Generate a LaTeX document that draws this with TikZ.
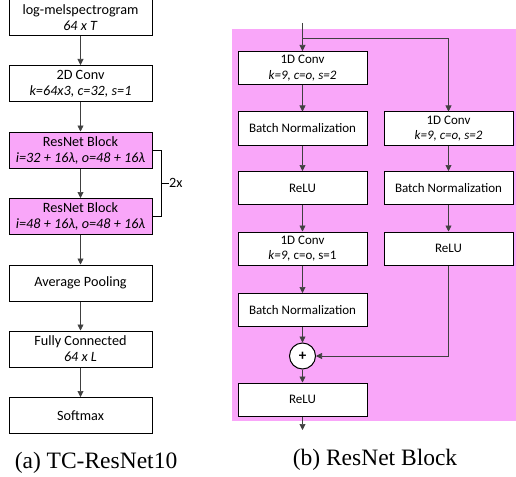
\documentclass[tikz,border=0pt]{standalone}
\usepackage{fontspec}
\setmainfont{Liberation Serif}
\newfontfamily\boxfont{Carlito}
\usetikzlibrary{arrows.meta}
\definecolor{blockpink}{RGB}{249,166,249}
\begin{document}
\begin{tikzpicture}[x=1pt,y=-1pt,
  box/.style={draw=black, line width=1pt, fill=white, minimum width=143pt, minimum height=36pt, inner sep=0pt, align=center, font=\boxfont\fontsize{14.2}{16}\selectfont},
  pbox/.style={box, fill=blockpink},
  rbox/.style={box, minimum width=129pt, minimum height=33pt, font=\boxfont\fontsize{13}{15.5}\selectfont},
  arr/.style={-{Triangle[length=6pt,width=6pt]}, line width=0.6pt, draw=black!75},
  captext/.style={font=\fontsize{23.5}{26}\selectfont, inner sep=0pt},
  sumnode/.style={circle, draw=black, line width=1pt, fill=white, minimum size=26pt, inner sep=0pt, font=\boxfont\bfseries\fontsize{15}{15}\selectfont}]
\useasboundingbox (0,0) rectangle (516,476);
% background of panel (b)
\fill[blockpink] (232,29) rectangle (516,421);
% panel (a)
\node[box] (mel) at (80.5,18) {log-melspectrogram\\\textit{64 x T}};
\node[box] (conv) at (80.5,83.5) {2D Conv\\\textit{k=64x3, c=32, s=1}};
\node[pbox] (rb1) at (80.5,150) {ResNet Block\\\textit{i=32 + 16λ, o=48 + 16λ}};
\node[pbox] (rb2) at (80.5,216.5) {ResNet Block\\\textit{i=48 + 16λ, o=48 + 16λ}};
\node[box] (pool) at (80.5,283) {Average Pooling};
\node[box] (fc) at (80.5,349) {Fully Connected\\\textit{64 x L}};
\node[box] (sm) at (80.5,415.5) {Softmax};
\node[captext] (capa) at (96,463) {(a) TC-ResNet10};
\draw[arr] (mel) -- (conv);
\draw[arr] (conv) -- (rb1);
\draw[arr] (rb1) -- (rb2);
\draw[arr] (rb2) -- (pool);
\draw[arr] (pool) -- (fc);
\draw[arr] (fc) -- (sm);
% bracket
\draw[line width=1pt] (rb1.east) -- ++(9,0) coordinate (bt) |- (rb2.east);
\node[anchor=west, inner sep=0pt, font=\boxfont\fontsize{14.2}{16}\selectfont] (two) at (169,183) {2x};
\coordinate (bm) at (161,183);
\draw[line width=1pt] (bm) -- (two.west);
% panel (b)
\node[rbox] (c1) at (302.5,68) {1D Conv\\\textit{k=9, c=o, s=2}};
\node[rbox] (bn1) at (302.5,128.5) {Batch Normalization};
\node[rbox] (relu1) at (302.5,188) {ReLU};
\node[rbox] (c2) at (302.5,248.5) {1D Conv\\\textit{k=9,} c=o, s=1};
\node[rbox] (bn2) at (302.5,310) {Batch Normalization};
\node[sumnode] (plus) at (302.5,356) {+};
\node[rbox] (relu2) at (302.5,399.5) {ReLU};
\node[rbox] (c3) at (448.5,128.5) {1D Conv\\\textit{k=9, c=o, s=2}};
\node[rbox] (bn3) at (448.5,188) {Batch Normalization};
\node[rbox] (relu3) at (448.5,248.5) {ReLU};
\coordinate (in) at (302.5,23);
\coordinate (split) at (302.5,38);
\coordinate (out) at (302.5,430);
\draw[line width=0.6pt, draw=black!75] (in) -- (split);
\draw[arr] (split) -- (c1);
\draw[arr] (split) -| (c3);
\draw[arr] (c1) -- (bn1);
\draw[arr] (bn1) -- (relu1);
\draw[arr] (relu1) -- (c2);
\draw[arr] (c2) -- (bn2);
\draw[arr] (bn2) -- (plus);
\draw[arr] (plus) -- (relu2);
\draw[arr] (relu2) -- (out);
\draw[arr] (c3) -- (bn3);
\draw[arr] (bn3) -- (relu3);
\draw[arr] (relu3) |- (plus);
\node[captext] (capb) at (375,460) {(b) ResNet Block};
\end{tikzpicture}
\end{document}
